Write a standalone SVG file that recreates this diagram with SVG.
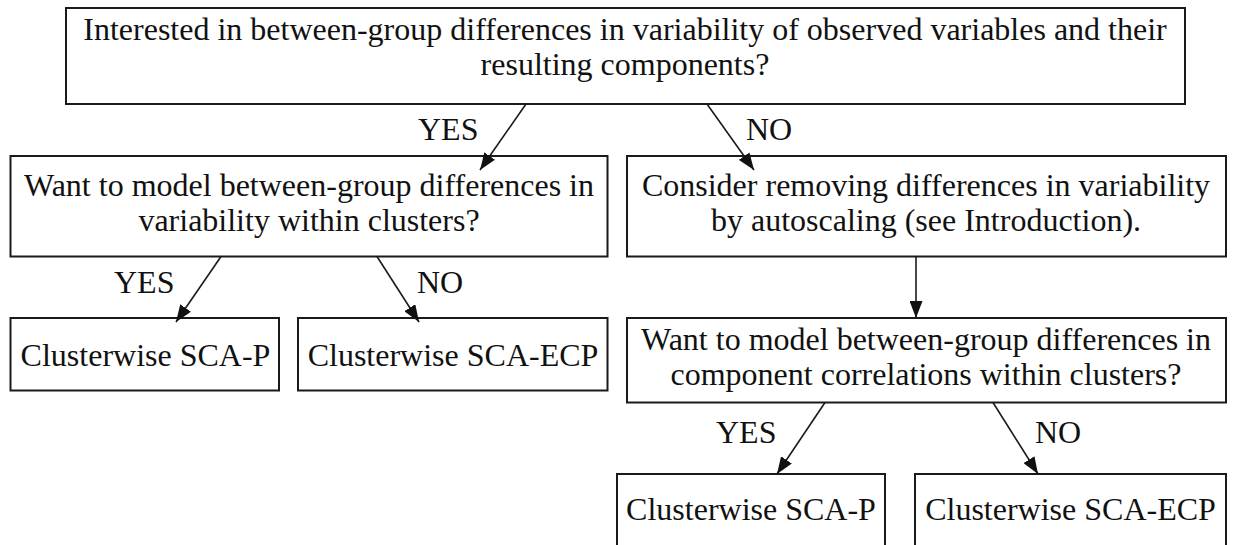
<svg xmlns="http://www.w3.org/2000/svg" width="1235" height="545" viewBox="0 0 1235 545">
  <style>
    .box { fill: #ffffff; stroke: #1a1a1a; stroke-width: 2; }
    .t { font-family: "Liberation Serif", "Times New Roman", serif; font-size: 32px; fill: #111111; text-anchor: middle; }
    .lbl { font-family: "Liberation Serif", "Times New Roman", serif; font-size: 32px; fill: #111111; text-anchor: start; }
    .edge { stroke: #1a1a1a; stroke-width: 1.6; fill: none; marker-end: url(#arrow); }
  </style>
  <defs>
    <marker id="arrow" markerUnits="userSpaceOnUse" markerWidth="17" markerHeight="13" viewBox="0 0 17 13" refX="17" refY="6.5" orient="auto">
      <path d="M0,0 L17,6.5 L0,13 z" fill="#111111"/>
    </marker>
  </defs>
  <rect width="1235" height="545" fill="#ffffff"/>

  <g id="n_top">
    <rect class="box" x="66" y="8" width="1119" height="96"/>
    <text class="t" x="625" y="40">Interested in between-group differences in variability of observed variables and their</text>
    <text class="t" x="625" y="75">resulting components?</text>
  </g>

  <g id="n_left_q">
    <rect class="box" x="10.5" y="156" width="597" height="100.5"/>
    <text class="t" x="309" y="196">Want to model between-group differences in</text>
    <text class="t" x="309" y="231">variability within clusters?</text>
  </g>

  <g id="n_right_q">
    <rect class="box" x="627" y="156" width="599" height="100.5"/>
    <text class="t" x="926" y="196">Consider removing differences in variability</text>
    <text class="t" x="926" y="231">by autoscaling (see Introduction).</text>
  </g>

  <g id="n_left_p">
    <rect class="box" x="10.5" y="318" width="268.5" height="72.5"/>
    <text class="t" x="145.5" y="366">Clusterwise SCA-P</text>
  </g>

  <g id="n_left_ecp">
    <rect class="box" x="298" y="318" width="309.5" height="72.5"/>
    <text class="t" x="453" y="366">Clusterwise SCA-ECP</text>
  </g>

  <g id="n_corr_q">
    <rect class="box" x="627" y="318" width="599" height="84.5"/>
    <text class="t" x="926" y="350">Want to model between-group differences in</text>
    <text class="t" x="926" y="385">component correlations within clusters?</text>
  </g>

  <g id="n_bottom_p">
    <rect class="box" x="617" y="474" width="268" height="90"/>
    <text class="t" x="751" y="520">Clusterwise SCA-P</text>
  </g>

  <g id="n_bottom_ecp">
    <rect class="box" x="915" y="474" width="311" height="90"/>
    <text class="t" x="1070.5" y="520">Clusterwise SCA-ECP</text>
  </g>

  <g id="connectors">
    <line class="edge" x1="526" y1="104" x2="480" y2="170"/>
    <line class="edge" x1="707" y1="104" x2="754" y2="170"/>
    <line class="edge" x1="221" y1="256.5" x2="176" y2="322"/>
    <line class="edge" x1="377" y1="256.5" x2="419" y2="322"/>
    <line class="edge" x1="916" y1="256.5" x2="916" y2="318"/>
    <line class="edge" x1="825" y1="402.5" x2="777" y2="474"/>
    <line class="edge" x1="993" y1="402.5" x2="1038" y2="474"/>
    <text class="lbl" x="418" y="140">YES</text>
    <text class="lbl" x="746" y="140">NO</text>
    <text class="lbl" x="114" y="293">YES</text>
    <text class="lbl" x="417" y="293">NO</text>
    <text class="lbl" x="716" y="443">YES</text>
    <text class="lbl" x="1035" y="443">NO</text>
  </g>
</svg>
